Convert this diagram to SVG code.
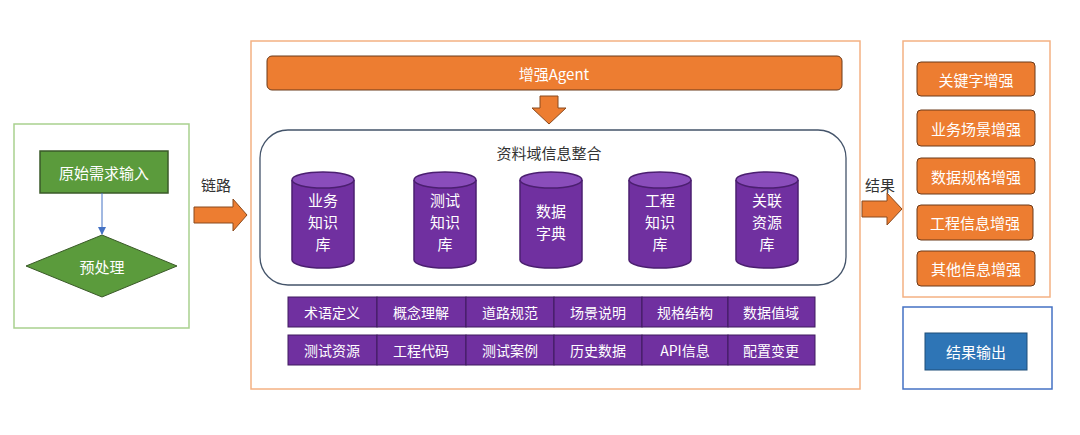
<svg xmlns="http://www.w3.org/2000/svg" width="1080" height="435" viewBox="0 0 1080 435">
<style>
text{font-family:"Noto Sans CJK SC","Liberation Sans",sans-serif;text-anchor:middle;dominant-baseline:central}
.w{fill:#fff;font-size:15px}
.cyl{fill:#7030a0;stroke:#4b1f70;stroke-width:1.5}
.top{fill:#8a4dbb;stroke:#4b1f70;stroke-width:1.5}
.cell{fill:#7030a0;stroke:#3f1a5e;stroke-width:1}
.ob{fill:#ed7d31;stroke:#6b3a1a;stroke-width:1}
.arr{fill:#ed7d31;stroke:#8a4a1e;stroke-width:1}
.lbl{fill:#333;font-size:15px}
</style>
<defs><marker id="m" markerWidth="8" markerHeight="8" refX="7" refY="4" orient="auto" markerUnits="userSpaceOnUse"><path d="M0,0L8,4L0,8z" fill="#4472c4"/></marker></defs>
<rect width="1080" height="435" fill="#fff"/>
<g id="left">
<rect x="14" y="124" width="175" height="204" fill="#fff" stroke="#a9d18e" stroke-width="1.5"/>
</g>
<g id="raw"><rect x="40" y="151" width="128" height="42" fill="#5b9b3c" stroke="#3a5a28" stroke-width="1.5"/><text class="w" x="104" y="172">原始需求输入</text></g>
<g id="pre"><polygon points="26,266 102,235 177,266 102,297" fill="#5b9b3c" stroke="#3a5a28" stroke-width="1"/><text class="w" x="102" y="266">预处理</text></g>
<g id="connectors">
<line x1="102" y1="193" x2="102" y2="234" stroke="#4472c4" stroke-width="1" marker-end="url(#m)"/>
<polygon class="arr" points="194,207 233,207 233,199 247,215 233,231 233,223 194,223"/>
<polygon class="arr" points="540,96 558,96 558,108 566,108 549,124 532,108 540,108"/>
<polygon class="arr" points="862,201 887,201 887,193 902,209 887,225 887,217 862,217"/>
</g>
<text class="lbl" x="216" y="184">链路</text>
<text class="lbl" x="880" y="184">结果</text>
<g id="mid"><rect x="251" y="41" width="609" height="348" fill="none" stroke="#f4b183" stroke-width="1.5"/></g>
<g id="agent"><rect x="267" y="56" width="575" height="34" rx="5" class="ob"/><text class="w" x="554" y="73">增强Agent</text></g>
<g id="integ"><rect x="260" y="130" width="586" height="155" rx="28" fill="#fff" stroke="#44546a" stroke-width="1.3"/><text class="lbl" x="549" y="152">资料域信息整合</text></g>
<g id="cyls">
<g id="c1"><path class="cyl" d="M292,180V260A31,8 0 0 0 354,260V180"/><ellipse class="top" cx="323" cy="180" rx="31" ry="8"/><text class="w" x="323" y="199">业务</text><text class="w" x="323" y="221">知识</text><text class="w" x="323" y="243">库</text></g>
<g id="c2"><path class="cyl" d="M414,180V260A31,8 0 0 0 476,260V180"/><ellipse class="top" cx="445" cy="180" rx="31" ry="8"/><text class="w" x="445" y="199">测试</text><text class="w" x="445" y="221">知识</text><text class="w" x="445" y="243">库</text></g>
<g id="c3"><path class="cyl" d="M520,180V260A31,8 0 0 0 582,260V180"/><ellipse class="top" cx="551" cy="180" rx="31" ry="8"/><text class="w" x="551" y="210">数据</text><text class="w" x="551" y="232">字典</text></g>
<g id="c4"><path class="cyl" d="M629,180V260A31,8 0 0 0 691,260V180"/><ellipse class="top" cx="660" cy="180" rx="31" ry="8"/><text class="w" x="660" y="199">工程</text><text class="w" x="660" y="221">知识</text><text class="w" x="660" y="243">库</text></g>
<g id="c5"><path class="cyl" d="M736,180V260A31,8 0 0 0 798,260V180"/><ellipse class="top" cx="767" cy="180" rx="31" ry="8"/><text class="w" x="767" y="199">关联</text><text class="w" x="767" y="221">资源</text><text class="w" x="767" y="243">库</text></g>
</g>
<g id="grid">
<rect class="cell" x="288" y="297" width="89" height="30"/><text class="w" x="332" y="312" style="font-size:14px">术语定义</text>
<rect class="cell" x="377" y="297" width="89" height="30"/><text class="w" x="421" y="312" style="font-size:14px">概念理解</text>
<rect class="cell" x="466" y="297" width="88" height="30"/><text class="w" x="510" y="312" style="font-size:14px">道路规范</text>
<rect class="cell" x="554" y="297" width="88" height="30"/><text class="w" x="598" y="312" style="font-size:14px">场景说明</text>
<rect class="cell" x="642" y="297" width="86" height="30"/><text class="w" x="685" y="312" style="font-size:14px">规格结构</text>
<rect class="cell" x="728" y="297" width="87" height="30"/><text class="w" x="771" y="312" style="font-size:14px">数据值域</text>
<rect class="cell" x="288" y="335" width="89" height="30"/><text class="w" x="332" y="350" style="font-size:14px">测试资源</text>
<rect class="cell" x="377" y="335" width="89" height="30"/><text class="w" x="421" y="350" style="font-size:14px">工程代码</text>
<rect class="cell" x="466" y="335" width="88" height="30"/><text class="w" x="510" y="350" style="font-size:14px">测试案例</text>
<rect class="cell" x="554" y="335" width="88" height="30"/><text class="w" x="598" y="350" style="font-size:14px">历史数据</text>
<rect class="cell" x="642" y="335" width="86" height="30"/><text class="w" x="685" y="350" style="font-size:14px">API信息</text>
<rect class="cell" x="728" y="335" width="87" height="30"/><text class="w" x="771" y="350" style="font-size:14px">配置变更</text>
</g>
<g id="right"><rect x="903" y="41" width="147" height="256" fill="none" stroke="#f4b183" stroke-width="1.5"/></g>
<g id="r1"><rect class="ob" x="917" y="62" width="118" height="34" rx="4"/><text class="w" x="976" y="79">关键字增强</text></g>
<g id="r2"><rect class="ob" x="917" y="110" width="118" height="36" rx="4"/><text class="w" x="976" y="128">业务场景增强</text></g>
<g id="r3"><rect class="ob" x="917" y="158" width="118" height="36" rx="4"/><text class="w" x="976" y="176">数据规格增强</text></g>
<g id="r4"><rect class="ob" x="917" y="205" width="116" height="35" rx="4"/><text class="w" x="975" y="222">工程信息增强</text></g>
<g id="r5"><rect class="ob" x="917" y="251" width="118" height="35" rx="4"/><text class="w" x="976" y="268">其他信息增强</text></g>
<g id="out"><rect x="903" y="307" width="149" height="82" fill="none" stroke="#4472c4" stroke-width="1.5"/></g>
<g id="res"><rect x="925" y="333" width="102" height="37" fill="#2e75b6" stroke="#1f4e79" stroke-width="1"/><text class="w" x="976" y="351">结果输出</text></g>
</svg>
